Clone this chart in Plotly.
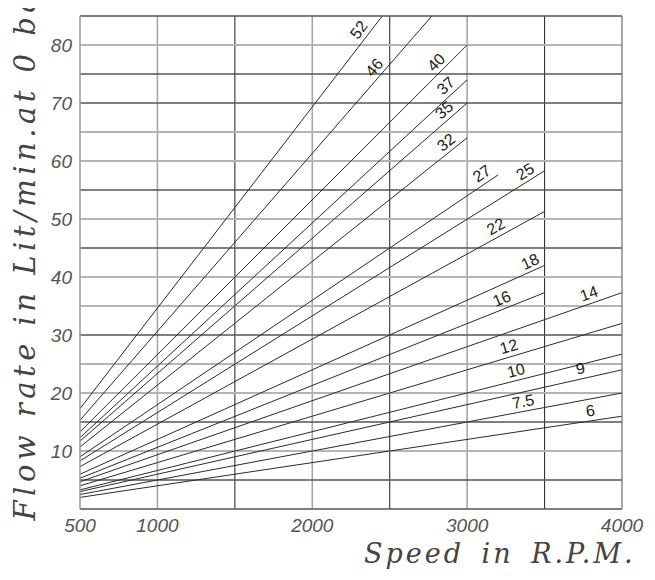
import math
import plotly.graph_objects as go

# ---- data ----
line_labels = ["52", "46", "40", "37", "35", "32", "27", "25", "22", "18",
               "16", "14", "12", "10", "9", "7.5", "6"]
start_rpm = [500] * 17
start_flow = [17.3, 15.3, 13.3, 12.3, 11.7, 10.7, 9.0, 8.3, 7.3, 6.0,
              5.3, 4.7, 4.0, 3.3, 3.0, 2.5, 2.0]
end_rpm = [2452, 2772, 3000, 3000, 3000, 3000, 3200, 3500, 3500, 3500,
           3500, 4000, 4000, 4000, 4000, 4000, 4000]
end_flow = [85.0, 85.0, 80.0, 74.0, 70.0, 64.0, 57.6, 58.3, 51.3, 42.0,
            37.3, 37.3, 32.0, 26.7, 24.0, 20.0, 16.0]
# rpm along each line where its label sits
label_rpm = [2353, 2447, 2844, 2907, 2896, 2902, 3132, 3408, 3217, 3432,
             3249, 3808, 3289, 3331, 3743, 3372, 3809]

x_tickvals = [500, 1000, 2000, 3000, 4000]
x_ticktext = ["500", "1000", "2000", "3000", "4000"]
y_tickvals = [10, 20, 30, 40, 50, 60, 70, 80]
y_ticktext = ["10", "20", "30", "40", "50", "60", "70", "80"]

# grid layout
v_light = [1000, 2000, 3000]
v_dark = [1500, 2500, 3500]
h_light = [10, 20, 25, 35, 40, 50, 60, 65, 80]
h_dark = [5, 15, 30, 45, 55, 70, 75]

# page body has an 8px margin, so the figure is 8px smaller than the window
W, H = 647, 572
ML, MR, MT, MB = 72, 33, 8, 71
XR = (500, 4000)
YR = (0, 85)
PW, PH = W - ML - MR, H - MT - MB
px_per_x = PW / (XR[1] - XR[0])
px_per_y = PH / (YR[1] - YR[0])

fig = go.Figure()

for i, lab in enumerate(line_labels):
    fig.add_trace(go.Scatter(
        x=[start_rpm[i], end_rpm[i]], y=[start_flow[i], end_flow[i]],
        mode="lines", line=dict(color="#2a2a2a", width=1),
        hoverinfo="skip", showlegend=False, cliponaxis=True))

shapes = []
for v in v_light:
    shapes.append(dict(type="line", xref="x", yref="paper", x0=v, x1=v, y0=0, y1=1,
                       line=dict(color="#a8a8a8", width=1.6), layer="below"))
for v in v_dark:
    shapes.append(dict(type="line", xref="x", yref="paper", x0=v, x1=v, y0=0, y1=1,
                       line=dict(color="#333333", width=1.1), layer="below"))
for h in h_light:
    shapes.append(dict(type="line", xref="paper", yref="y", x0=0, x1=1, y0=h, y1=h,
                       line=dict(color="#b4b4b4", width=1.8), layer="below"))
for h in h_dark:
    shapes.append(dict(type="line", xref="paper", yref="y", x0=0, x1=1, y0=h, y1=h,
                       line=dict(color="#555555", width=1.3), layer="below"))
# frame
shapes += [
    dict(type="line", xref="paper", yref="paper", x0=0, x1=1, y0=1, y1=1,
         line=dict(color="#555555", width=1.3)),
    dict(type="line", xref="paper", yref="paper", x0=0, x1=1, y0=0, y1=0,
         line=dict(color="#555555", width=1.3)),
    dict(type="line", xref="paper", yref="paper", x0=0, x1=0, y0=0, y1=1,
         line=dict(color="#999999", width=1.5)),
    dict(type="line", xref="paper", yref="paper", x0=1, x1=1, y0=0, y1=1,
         line=dict(color="#777777", width=1.3)),
]

annotations = []
d = 10
for i, lab in enumerate(line_labels):
    r = label_rpm[i]
    t = (r - start_rpm[i]) / (end_rpm[i] - start_rpm[i])
    yv = start_flow[i] + t * (end_flow[i] - start_flow[i])
    slope_data = (end_flow[i] - start_flow[i]) / (end_rpm[i] - start_rpm[i])
    theta = math.atan(slope_data * px_per_y / px_per_x)
    annotations.append(dict(
        x=r, y=yv, xref="x", yref="y", text=lab, showarrow=False,
        textangle=-math.degrees(theta),
        xshift=-d * math.sin(theta), yshift=d * math.cos(theta),
        font=dict(family="Liberation Sans", size=16, color="#222222")))


def wpx(px):  # window px (x) -> paper
    return (px - 8 - ML) / PW


def hpx(py):  # window px (y) -> paper
    return ((H - MB) - (py - 8)) / PH


annotations.append(dict(
    text='<span style="letter-spacing:4.5px">Flow rate in Lit/min.at 0 bar</span>',
    xref="paper", yref="paper",
    x=wpx(24), y=hpx(524),
    xanchor="center", yanchor="bottom", textangle=-90, showarrow=False,
    font=dict(family="DejaVu Serif", size=29, color="#444444", style="italic")))
annotations.append(dict(
    text='<span style="letter-spacing:3px;word-spacing:6px">Speed in R.P.M.</span>',
    xref="paper", yref="paper",
    x=wpx(500), y=hpx(553),
    xanchor="center", yanchor="middle", showarrow=False,
    font=dict(family="DejaVu Serif", size=27, color="#444444", style="italic")))

fig.update_layout(
    width=W, height=H,
    margin=dict(l=ML, r=MR, t=MT, b=MB, pad=0),
    paper_bgcolor="white", plot_bgcolor="white",
    shapes=shapes, annotations=annotations, showlegend=False,
    xaxis=dict(range=list(XR), tickvals=x_tickvals, ticktext=x_ticktext,
               showgrid=False, zeroline=False, showline=False, ticks="",
               automargin=False, ticklabelstandoff=3,
               tickfont=dict(family="Liberation Sans", size=19, color="#555555", style="italic")),
    yaxis=dict(range=list(YR), tickvals=y_tickvals, ticktext=y_ticktext,
               showgrid=False, zeroline=False, showline=False, ticks="",
               automargin=False, ticklabelstandoff=7,
               tickfont=dict(family="Liberation Sans", size=19, color="#555555", style="italic")),
)

fig.write_html("out.html")
